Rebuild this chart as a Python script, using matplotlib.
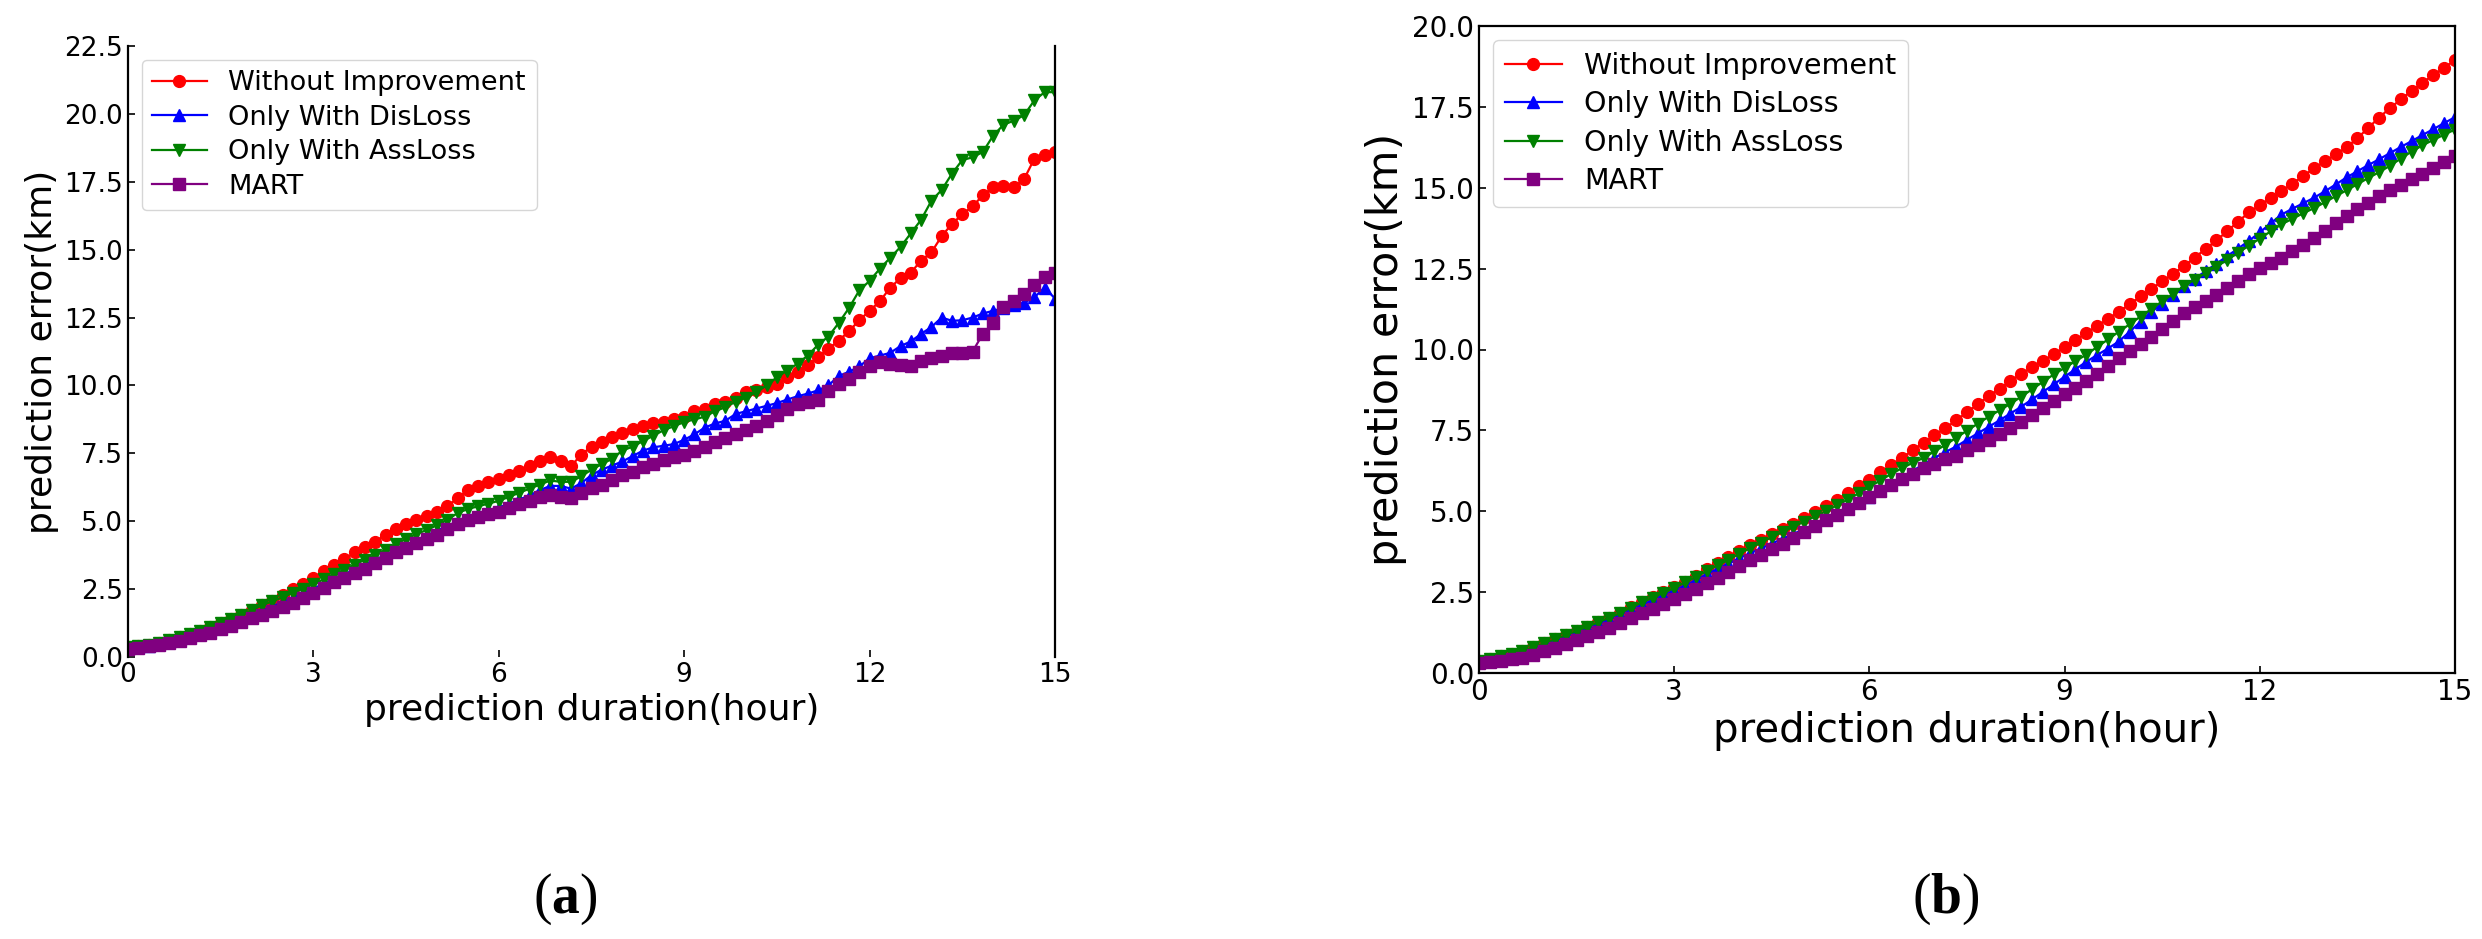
import matplotlib
matplotlib.use("Agg")
import matplotlib.pyplot as plt
import numpy as np

# ---------------- data ----------------
hours = [k / 6 for k in range(91)]  # 10-minute steps, 0..15 h
x_ticks = [0, 3, 6, 9, 12, 15]
labels = ["Without Improvement", "Only With DisLoss", "Only With AssLoss", "MART"]

# panel (a)
a_without = [0.35, 0.40, 0.46, 0.53, 0.62, 0.72, 0.85, 0.97, 1.10, 1.25, 1.40, 1.55,
             1.72, 1.90, 2.08, 2.28, 2.50, 2.70, 2.92, 3.15, 3.40, 3.60, 3.85, 4.05,
             4.25, 4.50, 4.72, 4.90, 5.05, 5.20, 5.35, 5.55, 5.85, 6.15, 6.30, 6.45,
             6.55, 6.70, 6.85, 7.05, 7.20, 7.35, 7.20, 7.02, 7.45, 7.75, 7.90, 8.10,
             8.25, 8.40, 8.50, 8.60, 8.65, 8.78, 8.85, 9.05, 9.15, 9.30, 9.40, 9.55,
             9.75, 9.85, 9.95, 10.05, 10.30, 10.50, 10.75, 11.05, 11.35, 11.65, 12.00, 12.40,
             12.75, 13.10, 13.60, 13.95, 14.15, 14.60, 14.90, 15.50, 15.95, 16.30, 16.60, 17.00,
             17.30, 17.35, 17.30, 17.60, 18.35, 18.50, 18.60]
a_disloss = [0.33, 0.37, 0.42, 0.49, 0.57, 0.66, 0.77, 0.88, 0.99, 1.12, 1.26, 1.40,
             1.55, 1.70, 1.86, 2.02, 2.18, 2.35, 2.52, 2.70, 2.88, 3.05, 3.22, 3.40,
             3.58, 3.76, 3.95, 4.12, 4.30, 4.48, 4.65, 4.82, 5.00, 5.15, 5.28, 5.40,
             5.50, 5.65, 5.80, 5.95, 6.15, 6.30, 6.30, 6.20, 6.40, 6.70, 6.90, 7.05,
             7.20, 7.40, 7.60, 7.72, 7.78, 7.84, 8.00, 8.20, 8.45, 8.60, 8.70, 8.95,
             9.05, 9.15, 9.25, 9.35, 9.48, 9.60, 9.70, 9.82, 10.00, 10.35, 10.50, 10.70,
             11.00, 11.10, 11.20, 11.45, 11.62, 11.90, 12.15, 12.50, 12.38, 12.40, 12.50, 12.65,
             12.75, 12.85, 12.95, 13.05, 13.25, 13.60, 13.20]
a_assloss = [0.35, 0.40, 0.46, 0.53, 0.62, 0.72, 0.85, 0.97, 1.10, 1.25, 1.40, 1.55,
             1.72, 1.90, 2.05, 2.20, 2.36, 2.52, 2.68, 2.86, 3.04, 3.22, 3.40, 3.58,
             3.76, 3.95, 4.15, 4.35, 4.52, 4.68, 4.85, 5.05, 5.30, 5.45, 5.55, 5.65,
             5.75, 5.90, 6.05, 6.20, 6.35, 6.50, 6.45, 6.45, 6.65, 6.90, 7.10, 7.30,
             7.60, 7.75, 7.95, 8.15, 8.35, 8.50, 8.65, 8.75, 8.85, 9.05, 9.20, 9.40,
             9.55, 9.75, 10.00, 10.30, 10.55, 10.80, 11.10, 11.50, 11.80, 12.30, 12.85, 13.50,
             13.85, 14.30, 14.70, 15.10, 15.60, 16.10, 16.80, 17.20, 17.80, 18.30, 18.40, 18.60,
             19.20, 19.60, 19.75, 19.95, 20.50, 20.80, 20.80]
a_mart = [0.30, 0.34, 0.39, 0.45, 0.52, 0.60, 0.70, 0.80, 0.90, 1.02, 1.15, 1.28,
          1.42, 1.56, 1.70, 1.85, 2.00, 2.18, 2.35, 2.55, 2.75, 2.92, 3.08, 3.25,
          3.45, 3.65, 3.85, 4.02, 4.18, 4.35, 4.50, 4.70, 4.90, 5.05, 5.15, 5.25,
          5.35, 5.50, 5.62, 5.75, 5.88, 5.96, 5.90, 5.85, 6.05, 6.22, 6.35, 6.50,
          6.70, 6.82, 7.00, 7.10, 7.25, 7.35, 7.45, 7.58, 7.75, 7.90, 8.05, 8.20,
          8.35, 8.50, 8.70, 8.90, 9.15, 9.30, 9.40, 9.45, 9.80, 10.05, 10.25, 10.50,
          10.70, 10.85, 10.80, 10.75, 10.70, 10.90, 11.00, 11.10, 11.20, 11.20, 11.25, 11.90,
          12.30, 12.90, 13.10, 13.35, 13.70, 14.00, 14.15]

# panel (b)
b_without = [0.37, 0.44, 0.52, 0.60, 0.68, 0.80, 0.92, 1.04, 1.17, 1.30, 1.43, 1.57,
             1.71, 1.85, 2.03, 2.20, 2.35, 2.50, 2.65, 2.82, 3.00, 3.20, 3.40, 3.59,
             3.77, 3.95, 4.12, 4.29, 4.46, 4.62, 4.80, 4.97, 5.15, 5.36, 5.56, 5.77,
             5.98, 6.20, 6.42, 6.65, 6.89, 7.12, 7.35, 7.57, 7.81, 8.06, 8.31, 8.56,
             8.79, 9.03, 9.25, 9.45, 9.65, 9.85, 10.07, 10.29, 10.51, 10.73, 10.94, 11.17,
             11.40, 11.64, 11.87, 12.11, 12.34, 12.58, 12.84, 13.11, 13.37, 13.66, 13.95, 14.24,
             14.46, 14.68, 14.90, 15.13, 15.36, 15.60, 15.82, 16.03, 16.25, 16.53, 16.85, 17.17,
             17.46, 17.73, 18.00, 18.25, 18.48, 18.71, 18.95]
b_disloss = [0.36, 0.42, 0.50, 0.58, 0.66, 0.77, 0.89, 1.00, 1.12, 1.25, 1.38, 1.51,
             1.65, 1.79, 1.95, 2.10, 2.25, 2.40, 2.55, 2.70, 2.87, 3.05, 3.22, 3.38,
             3.55, 3.70, 3.85, 4.00, 4.15, 4.30, 4.45, 4.60, 4.75, 4.92, 5.10, 5.28,
             5.45, 5.65, 5.85, 6.05, 6.25, 6.45, 6.65, 6.83, 7.00, 7.21, 7.41, 7.61,
             7.81, 8.02, 8.23, 8.46, 8.69, 8.92, 9.16, 9.39, 9.62, 9.83, 10.03, 10.25,
             10.55, 10.86, 11.16, 11.42, 11.69, 11.96, 12.19, 12.42, 12.65, 12.89, 13.12, 13.36,
             13.62, 13.90, 14.17, 14.35, 14.52, 14.69, 14.89, 15.10, 15.32, 15.51, 15.70, 15.88,
             16.07, 16.26, 16.44, 16.63, 16.81, 17.00, 17.18]
b_assloss = [0.37, 0.44, 0.52, 0.60, 0.68, 0.80, 0.92, 1.04, 1.17, 1.30, 1.43, 1.57,
             1.71, 1.85, 2.02, 2.18, 2.33, 2.48, 2.63, 2.80, 2.97, 3.15, 3.33, 3.50,
             3.68, 3.86, 4.03, 4.20, 4.36, 4.52, 4.68, 4.84, 5.00, 5.18, 5.36, 5.55,
             5.75, 5.95, 6.15, 6.33, 6.50, 6.65, 6.85, 7.05, 7.27, 7.49, 7.71, 7.92,
             8.12, 8.32, 8.54, 8.77, 9.00, 9.23, 9.43, 9.64, 9.84, 10.08, 10.31, 10.55,
             10.78, 11.02, 11.25, 11.49, 11.72, 11.96, 12.16, 12.36, 12.56, 12.77, 12.99, 13.21,
             13.43, 13.65, 13.87, 14.04, 14.21, 14.37, 14.55, 14.74, 14.92, 15.11, 15.30, 15.48,
             15.68, 15.90, 16.12, 16.31, 16.48, 16.64, 16.80]
b_mart = [0.30, 0.33, 0.38, 0.43, 0.47, 0.57, 0.67, 0.78, 0.89, 1.01, 1.13, 1.26,
          1.40, 1.54, 1.69, 1.84, 1.99, 2.14, 2.29, 2.44, 2.61, 2.78, 2.95, 3.13,
          3.31, 3.50, 3.66, 3.83, 3.99, 4.18, 4.36, 4.55, 4.72, 4.89, 5.06, 5.24,
          5.44, 5.64, 5.82, 5.99, 6.16, 6.33, 6.47, 6.60, 6.70, 6.88, 7.04, 7.19,
          7.38, 7.57, 7.76, 7.98, 8.19, 8.41, 8.61, 8.81, 9.02, 9.25, 9.49, 9.73,
          9.94, 10.16, 10.39, 10.64, 10.89, 11.14, 11.32, 11.50, 11.68, 11.90, 12.12, 12.34,
          12.51, 12.67, 12.84, 13.04, 13.24, 13.44, 13.67, 13.90, 14.13, 14.34, 14.54, 14.75,
          14.93, 15.10, 15.26, 15.44, 15.62, 15.81, 15.98]

colors = ["red", "blue", "green", "purple"]
markers = ["o", "^", "v", "s"]

plt.rcParams["mathtext.fontset"] = "custom"
plt.rcParams["mathtext.rm"] = "Liberation Serif"
plt.rcParams["mathtext.bf"] = "Liberation Serif:bold"

fig = plt.figure(figsize=(24.82, 9.39), dpi=100)
axa = fig.add_axes([128 / 2482, 1 - 657 / 939, 927 / 2482, 611 / 939])
axb = fig.add_axes([1479 / 2482, 1 - 673 / 939, 976 / 2482, 647 / 939])

def draw(ax, series, ymax, tick_fs, xl_fs, yl_fs, leg_fs, leg_sp):
    for ys, c, m, lab in zip(series, colors, markers, labels):
        ax.plot(hours, ys, color=c, marker=m, markersize=8.5, linewidth=1.6, label=lab)
    ax.set_xlim(0, 15)
    ax.set_ylim(0, ymax)
    ax.set_xticks(x_ticks)
    ax.set_yticks(np.arange(0, ymax + 0.01, 2.5))
    ax.yaxis.set_major_formatter(matplotlib.ticker.FormatStrFormatter("%.1f"))
    ax.tick_params(direction="in", labelsize=tick_fs, length=5, width=1.2)
    for sp in ax.spines.values():
        sp.set_linewidth(1.6)
    ax.set_xlabel("prediction duration(hour)", fontsize=xl_fs)
    ax.set_ylabel("prediction error(km)", fontsize=yl_fs)
    ax.legend(loc="upper left", fontsize=leg_fs, labelspacing=leg_sp)

draw(axa, [a_without, a_disloss, a_assloss, a_mart], 22.5, 19, 26, 26, 19.5, 0.31)
axa.spines["top"].set_visible(False)
axa.spines["bottom"].set_visible(False)

draw(axb, [b_without, b_disloss, b_assloss, b_mart], 20.0, 20, 29, 31, 20.5, 0.37)

fig.text(565 / 2482, 1 - 899 / 939, r"($\mathbf{a}$)", fontsize=40,
         family="Liberation Serif", ha="center", va="center")
fig.text(1946 / 2482, 1 - 899 / 939, r"($\mathbf{b}$)", fontsize=40,
         family="Liberation Serif", ha="center", va="center")

fig.savefig("out.png", dpi=100, facecolor="white")
